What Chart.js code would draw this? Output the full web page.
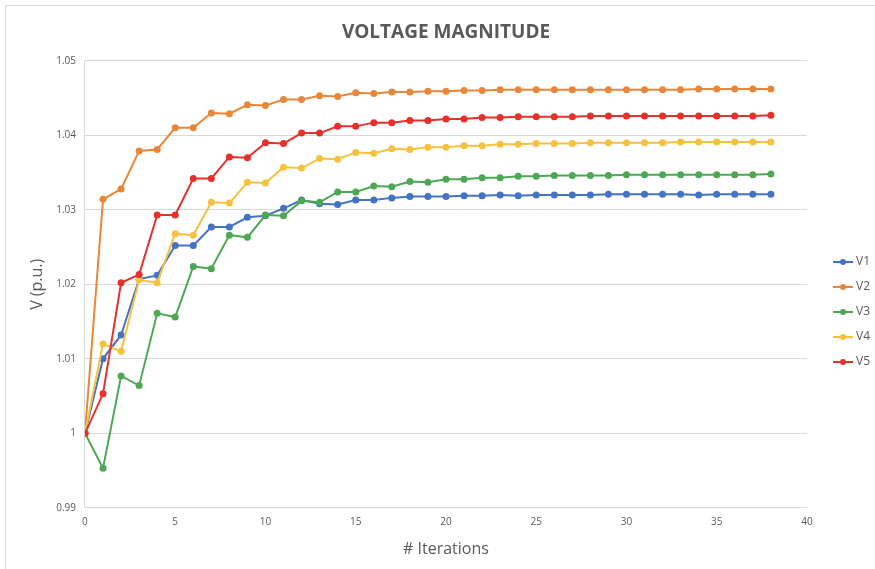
<!DOCTYPE html>
<html>
<head>
<meta charset="utf-8">
<script src="https://cdn.jsdelivr.net/npm/chart.js@4"></script>
<style>
  html, body { margin: 0; padding: 0; background: #fff; }
  #wrap { position: relative; width: 875px; height: 569px; }
  #frame { position: absolute; left: 5px; top: 5px; width: 875px; height: 570px; border: 1px solid #d9d9d9; pointer-events: none; }
</style>
</head>
<body>
<div id="wrap">
  <canvas id="grafico" width="875" height="569"></canvas>
  <div id="frame"></div>
</div>
<script>
const iteracoes = [0, 1, 2, 3, 4, 5, 6, 7, 8, 9, 10, 11, 12, 13, 14, 15, 16, 17, 18, 19,
  20, 21, 22, 23, 24, 25, 26, 27, 28, 29, 30, 31, 32, 33, 34, 35, 36, 37, 38];

const v1 = [1.0, 1.0100, 1.0132, 1.0207, 1.0212, 1.0252, 1.0252, 1.0277, 1.0277, 1.0290,
  1.0292, 1.0302, 1.0313, 1.0308, 1.0307, 1.0313, 1.0313, 1.0316, 1.0318, 1.0318,
  1.0318, 1.0319, 1.0319, 1.0320, 1.0319, 1.0320, 1.0320, 1.0320, 1.0320, 1.0321,
  1.0321, 1.0321, 1.0321, 1.0321, 1.0320, 1.0321, 1.0321, 1.0321, 1.0321];
const v2 = [1.0, 1.0314, 1.0328, 1.0379, 1.0381, 1.0410, 1.0410, 1.0430, 1.0429, 1.0441,
  1.0440, 1.0448, 1.0448, 1.0453, 1.0452, 1.0457, 1.0456, 1.0458, 1.0458, 1.0459,
  1.0459, 1.0460, 1.0460, 1.0461, 1.0461, 1.0461, 1.0461, 1.0461, 1.0461, 1.0461,
  1.0461, 1.0461, 1.0461, 1.0461, 1.0462, 1.0462, 1.0462, 1.0462, 1.0462];
const v3 = [1.0, 0.9953, 1.0077, 1.0064, 1.0161, 1.0156, 1.0224, 1.0221, 1.0266, 1.0263,
  1.0293, 1.0292, 1.0312, 1.0310, 1.0324, 1.0324, 1.0332, 1.0331, 1.0338, 1.0337,
  1.0341, 1.0341, 1.0343, 1.0343, 1.0345, 1.0345, 1.0346, 1.0346, 1.0346, 1.0346,
  1.0347, 1.0347, 1.0347, 1.0347, 1.0347, 1.0347, 1.0347, 1.0347, 1.0348];
const v4 = [1.0, 1.0120, 1.0110, 1.0206, 1.0202, 1.0268, 1.0266, 1.0310, 1.0309, 1.0337,
  1.0336, 1.0357, 1.0356, 1.0369, 1.0368, 1.0377, 1.0376, 1.0382, 1.0381, 1.0384,
  1.0384, 1.0386, 1.0386, 1.0388, 1.0388, 1.0389, 1.0389, 1.0389, 1.0390, 1.0390,
  1.0390, 1.0390, 1.0390, 1.0391, 1.0391, 1.0391, 1.0391, 1.0391, 1.0391];
const v5 = [1.0, 1.0053, 1.0202, 1.0213, 1.0293, 1.0293, 1.0342, 1.0342, 1.0371, 1.0370,
  1.0390, 1.0389, 1.0403, 1.0403, 1.0412, 1.0412, 1.0417, 1.0417, 1.0420, 1.0420,
  1.0422, 1.0422, 1.0424, 1.0424, 1.0425, 1.0425, 1.0425, 1.0425, 1.0426, 1.0426,
  1.0426, 1.0426, 1.0426, 1.0426, 1.0426, 1.0426, 1.0426, 1.0426, 1.0427];

const nomes = ["V1", "V2", "V3", "V4", "V5"];
const series = [v1, v2, v3, v4, v5];
const cores = ["#4472C4", "#E8873A", "#4CA853", "#F5C13F", "#E5302B"];

const ticksY = [0.99, 1, 1.01, 1.02, 1.03, 1.04, 1.05];
const ticksX = [0, 5, 10, 15, 20, 25, 30, 35, 40];

// little line-with-dot symbol for the legend
function simbolo(cor) {
  const c = document.createElement("canvas");
  c.width = 20;
  c.height = 8;
  const ctx = c.getContext("2d");
  ctx.strokeStyle = cor;
  ctx.lineWidth = 2;
  ctx.beginPath();
  ctx.moveTo(0, 4);
  ctx.lineTo(20, 4);
  ctx.stroke();
  ctx.fillStyle = cor;
  ctx.beginPath();
  ctx.arc(10, 4, 3, 0, Math.PI * 2);
  ctx.fill();
  return c;
}

// nudge the legend a bit lower / further right, like the excel one
const moveLegenda = {
  id: "moveLegenda",
  afterLayout(chart) {
    const l = chart.legend;
    l.left += 16;
    l.right += 16;
    l.top += 22;
    l.bottom += 22;
  },
};

const cinza = "#595959";

new Chart(document.getElementById("grafico"), {
  type: "line",
  data: {
    datasets: series.map((s, i) => ({
      label: nomes[i],
      data: s.map((y, k) => ({ x: iteracoes[k], y: y })),
      borderColor: cores[i],
      backgroundColor: cores[i],
      borderWidth: 2,
      pointRadius: 3.5,
      pointBorderWidth: 0,
      order: 5 - i,
    })),
  },
  options: {
    responsive: false,
    animation: false,
    layout: { padding: { top: 21, left: 28, right: 11, bottom: 10 } },
    elements: { line: { tension: 0 } },
    plugins: {
      title: {
        display: true,
        text: "VOLTAGE MAGNITUDE",
        color: cinza,
        font: { family: "'Open Sans'", size: 19, weight: "bold" },
        padding: { top: 0, bottom: 17 },
      },
      legend: {
        position: "right",
        labels: {
          usePointStyle: true,
          pointStyleWidth: 14,
          boxHeight: 8,
          padding: 13,
          color: cinza,
          font: { family: "'Open Sans'", size: 12 },
          generateLabels: (chart) =>
            chart.data.datasets.map((d, i) => ({
              text: d.label,
              pointStyle: simbolo(cores[i]),
              fillStyle: cores[i],
              strokeStyle: cores[i],
              lineWidth: 0,
              fontColor: cinza,
              datasetIndex: i,
            })),
        },
      },
      tooltip: { enabled: false },
    },
    scales: {
      x: {
        type: "linear",
        min: 0,
        max: 40,
        afterBuildTicks: (ax) => { ax.ticks = ticksX.map((v) => ({ value: v })); },
        grid: { display: false, drawTicks: false },
        border: { color: "#d9d9d9", width: 1 },
        ticks: { color: cinza, font: { family: "'Open Sans'", size: 10 }, padding: 8 },
        title: {
          display: true,
          text: "# Iterations",
          color: cinza,
          font: { family: "'Open Sans'", size: 16 },
          padding: { top: 4, bottom: 0 },
        },
      },
      y: {
        min: 0.99,
        max: 1.05,
        afterBuildTicks: (ax) => { ax.ticks = ticksY.map((v) => ({ value: v })); },
        grid: { color: "#d9d9d9", lineWidth: 1, drawTicks: false },
        border: { color: "#d9d9d9", width: 1 },
        ticks: {
          color: cinza,
          font: { family: "'Open Sans'", size: 10 },
          padding: 9,
          callback: (v) => String(Math.round(v * 100) / 100),
        },
        title: {
          display: true,
          text: "V (p.u.)",
          color: cinza,
          font: { family: "'Open Sans'", size: 16 },
          padding: { top: 0, bottom: 0 },
        },
      },
    },
  },
  plugins: [moveLegenda],
});
</script>
</body>
</html>
